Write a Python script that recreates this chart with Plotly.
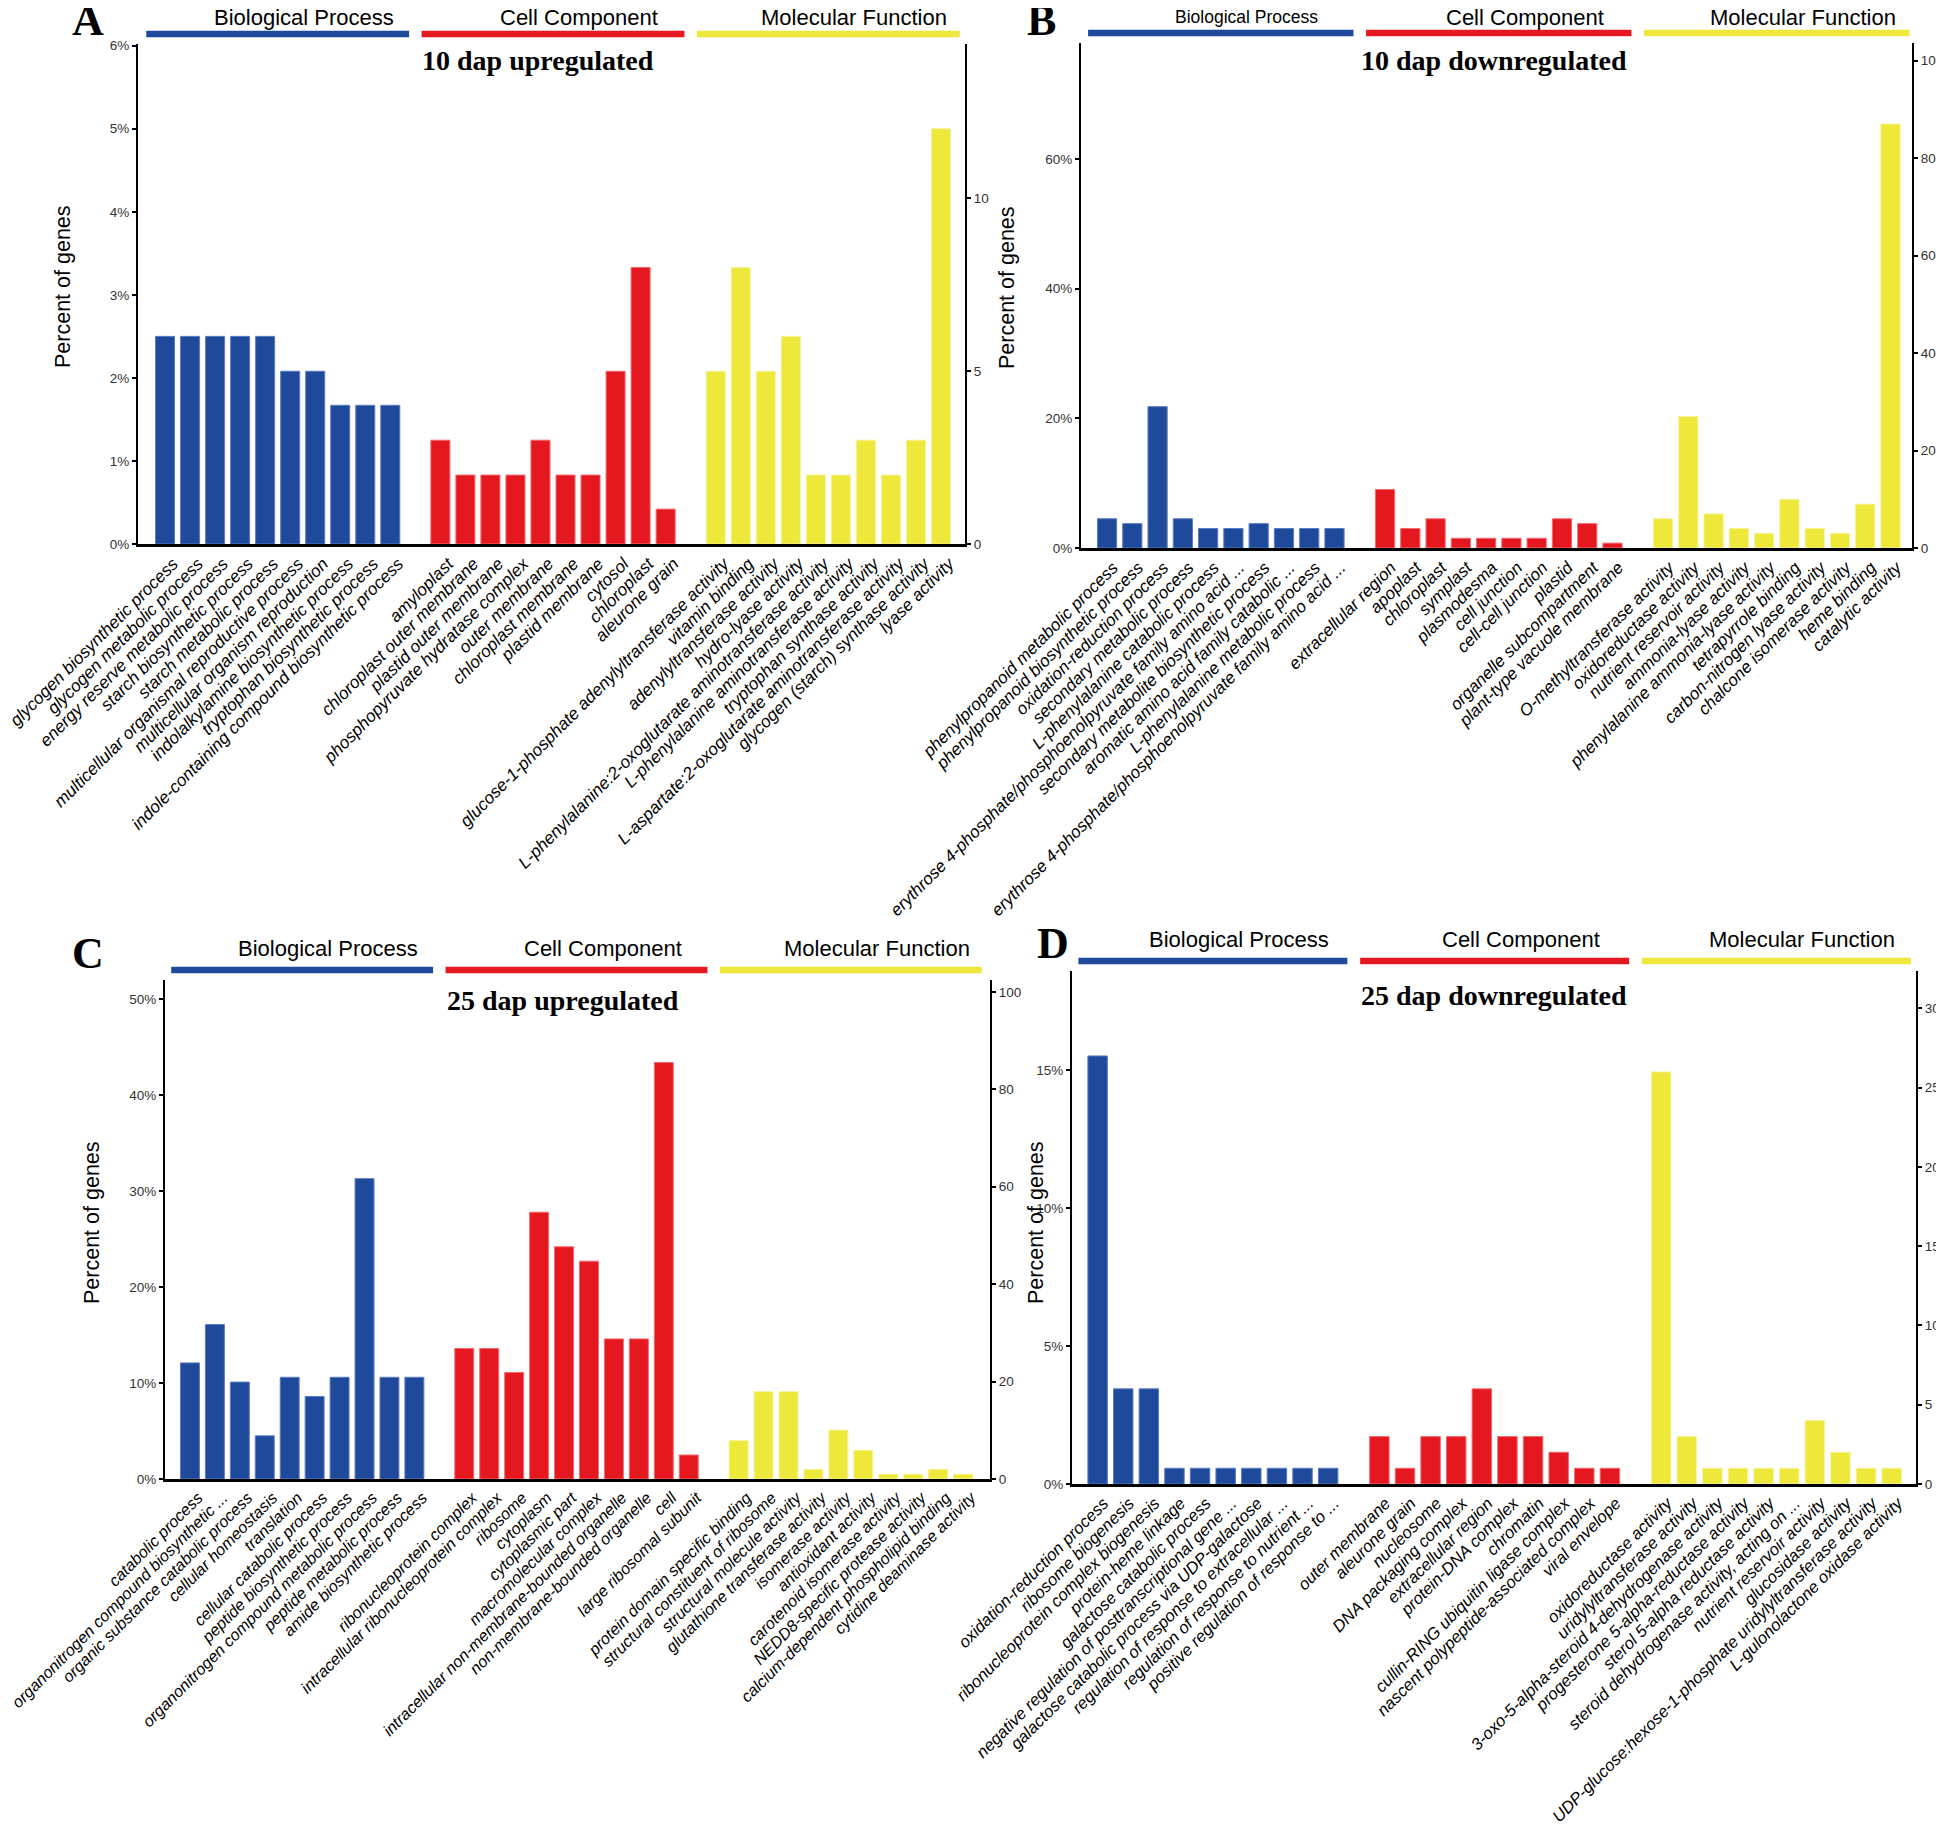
import plotly.graph_objects as go

W, H = 1944, 1825
BLUE, RED, YELLOW = "#1f4a9c", "#e6181f", "#ede839"
BLUE_E, RED_E, YELLOW_E = "#5b7cc0", "#f06a6f", "#f6f29a"

# ---------------- Panel A: 10 dap upregulated ----------------
A_BP_TERMS = ["glycogen biosynthetic process", "glycogen metabolic process",
              "energy reserve metabolic process", "starch biosynthetic process",
              "starch metabolic process", "multicellular organismal reproductive process",
              "multicellular organism reproduction", "indolalkylamine biosynthetic process",
              "tryptophan biosynthetic process", "indole-containing compound biosynthetic process"]
A_BP_PCT = [2.5, 2.5, 2.5, 2.5, 2.5, 2.08, 2.08, 1.67, 1.67, 1.67]
A_CC_TERMS = ["amyloplast", "chloroplast outer membrane", "plastid outer membrane",
              "phosphopyruvate hydratase complex", "outer membrane", "chloroplast membrane",
              "plastid membrane", "cytosol", "chloroplast", "aleurone grain"]
A_CC_PCT = [1.25, 0.83, 0.83, 0.83, 1.25, 0.83, 0.83, 2.08, 3.33, 0.42]
A_MF_TERMS = ["glucose-1-phosphate adenylyltransferase activity", "vitamin binding",
              "adenylyltransferase activity", "hydro-lyase activity",
              "L-phenylalanine:2-oxoglutarate aminotransferase activity",
              "L-phenylalanine aminotransferase activity", "tryptophan synthase activity",
              "L-aspartate:2-oxoglutarate aminotransferase activity",
              "glycogen (starch) synthase activity", "lyase activity"]
A_MF_PCT = [2.08, 3.33, 2.08, 2.5, 0.83, 0.83, 1.25, 0.83, 1.25, 5.0]
A_TOTAL = 240

# ---------------- Panel B: 10 dap downregulated ----------------
B_BP_TERMS = ["phenylpropanoid metabolic process", "phenylpropanoid biosynthetic process",
              "oxidation-reduction process", "secondary metabolic process",
              "L-phenylalanine catabolic process",
              "erythrose 4-phosphate/phosphoenolpyruvate family amino acid ...",
              "secondary metabolite biosynthetic process",
              "aromatic amino acid family catabolic ...", "L-phenylalanine metabolic process",
              "erythrose 4-phosphate/phosphoenolpyruvate family amino acid ..."]
B_BP_PCT = [4.51, 3.76, 21.8, 4.51, 3.01, 3.01, 3.76, 3.01, 3.01, 3.01]
B_CC_TERMS = ["extracellular region", "apoplast", "chloroplast", "symplast", "plasmodesma",
              "cell junction", "cell-cell junction", "plastid", "organelle subcompartment",
              "plant-type vacuole membrane"]
B_CC_PCT = [9.02, 3.01, 4.51, 1.5, 1.5, 1.5, 1.5, 4.51, 3.76, 0.75]
B_MF_TERMS = ["O-methyltransferase activity", "oxidoreductase activity",
              "nutrient reservoir activity", "ammonia-lyase activity",
              "phenylalanine ammonia-lyase activity", "tetrapyrrole binding",
              "carbon-nitrogen lyase activity", "chalcone isomerase activity",
              "heme binding", "catalytic activity"]
B_MF_PCT = [4.51, 20.3, 5.26, 3.01, 2.26, 7.52, 3.01, 2.26, 6.77, 65.4]
B_TOTAL = 133

# ---------------- Panel C: 25 dap upregulated ----------------
C_BP_TERMS = ["catabolic process", "organonitrogen compound biosynthetic ...",
              "organic substance catabolic process", "cellular homeostasis", "translation",
              "cellular catabolic process", "peptide biosynthetic process",
              "organonitrogen compound metabolic process", "peptide metabolic process",
              "amide biosynthetic process"]
C_BP_PCT = [12.1, 16.1, 10.1, 4.5, 10.6, 8.6, 10.6, 31.3, 10.6, 10.6]
C_CC_TERMS = ["ribonucleoprotein complex", "intracellular ribonucleoprotein complex",
              "ribosome", "cytoplasm", "cytoplasmic part", "macromolecular complex",
              "intracellular non-membrane-bounded organelle",
              "non-membrane-bounded organelle", "cell", "large ribosomal subunit"]
C_CC_PCT = [13.6, 13.6, 11.1, 27.8, 24.2, 22.7, 14.6, 14.6, 43.4, 2.5]
C_MF_TERMS = ["protein domain specific binding", "structural constituent of ribosome",
              "structural molecule activity", "glutathione transferase activity",
              "isomerase activity", "antioxidant activity", "carotenoid isomerase activity",
              "NEDD8-specific protease activity", "calcium-dependent phospholipid binding",
              "cytidine deaminase activity"]
C_MF_PCT = [4.0, 9.1, 9.1, 1.0, 5.1, 3.0, 0.5, 0.5, 1.0, 0.5]
C_TOTAL = 197

# ---------------- Panel D: 25 dap downregulated ----------------
D_BP_TERMS = ["oxidation-reduction process", "ribosome biogenesis",
              "ribonucleoprotein complex biogenesis", "protein-heme linkage",
              "galactose catabolic process",
              "negative regulation of posttranscriptional gene ...",
              "galactose catabolic process via UDP-galactose",
              "regulation of response to extracellular ...",
              "regulation of response to nutrient ...",
              "positive regulation of response to ..."]
D_BP_PCT = [15.52, 3.45, 3.45, 0.57, 0.57, 0.57, 0.57, 0.57, 0.57, 0.57]
D_CC_TERMS = ["outer membrane", "aleurone grain", "nucleosome", "DNA packaging complex",
              "extracellular region", "protein-DNA complex", "chromatin",
              "cullin-RING ubiquitin ligase complex",
              "nascent polypeptide-associated complex", "viral envelope"]
D_CC_PCT = [1.72, 0.57, 1.72, 1.72, 3.45, 1.72, 1.72, 1.15, 0.57, 0.57]
D_MF_TERMS = ["oxidoreductase activity", "uridylyltransferase activity",
              "3-oxo-5-alpha-steroid 4-dehydrogenase activity",
              "progesterone 5-alpha-reductase activity", "sterol 5-alpha reductase activity",
              "steroid dehydrogenase activity, acting on ...", "nutrient reservoir activity",
              "glucosidase activity",
              "UDP-glucose:hexose-1-phosphate uridylyltransferase activity",
              "L-gulonolactone oxidase activity"]
D_MF_PCT = [14.94, 1.72, 0.57, 0.57, 0.57, 0.57, 2.30, 1.15, 0.57, 0.57]
D_TOTAL = 174

GROUP_NAMES = ["Biological Process", "Cell Component", "Molecular Function"]

# layout specs (pixels in the 1944x1825 page)
PANELS = [
    dict(letter="A", title="10 dap upregulated", total=A_TOTAL,
         groups=[(A_BP_TERMS, A_BP_PCT), (A_CC_TERMS, A_CC_PCT), (A_MF_TERMS, A_MF_PCT)],
         px=(137, 964), py=(43, 543), ytop=6.02, ydt=1, rdt=5, xr=(-1.08, 31.96),
         letter_xy=(87, 20), title_xy=(537, 59), ytitle_xy=(62, 286),
         hdr_sizes=(22, 22, 22), hdr_shift=16, lab_size=17.2, lab_shift=8),
    dict(letter="B", title="10 dap downregulated", total=B_TOTAL,
         groups=[(B_BP_TERMS, B_BP_PCT), (B_CC_TERMS, B_CC_PCT), (B_MF_TERMS, B_MF_PCT)],
         px=(1080, 1911), py=(42, 547), ytop=77.9, ydt=20, rdt=20, xr=(-1.03, 31.85),
         letter_xy=(1040, 20), title_xy=(1493, 59), ytitle_xy=(1006, 286),
         hdr_sizes=(17.5, 22, 22), hdr_shift=16, lab_size=17, lab_shift=6),
    dict(letter="C", title="25 dap upregulated", total=C_TOTAL,
         groups=[(C_BP_TERMS, C_BP_PCT), (C_CC_TERMS, C_CC_PCT), (C_MF_TERMS, C_MF_PCT)],
         px=(164, 989), py=(979, 1478), ytop=52.0, ydt=10, rdt=20, xr=(-1.0, 32.08),
         letter_xy=(87, 952), title_xy=(562, 999), ytitle_xy=(91, 1222),
         hdr_sizes=(22, 22, 22), hdr_shift=22, lab_size=16.2, lab_shift=8),
    dict(letter="D", title="25 dap downregulated", total=D_TOTAL,
         groups=[(D_BP_TERMS, D_BP_PCT), (D_CC_TERMS, D_CC_PCT), (D_MF_TERMS, D_MF_PCT)],
         px=(1071, 1915), py=(970, 1483), ytop=18.6, ydt=5, rdt=5, xr=(-1.0, 31.95),
         letter_xy=(1052, 942), title_xy=(1493, 994), ytitle_xy=(1035, 1222),
         hdr_sizes=(22, 22, 22), hdr_shift=22, lab_size=16.7, lab_shift=6),
]
OX, OY = -7, -7  # global pixel offset

COLORS = [(BLUE, BLUE_E), (RED, RED_E), (YELLOW, YELLOW_E)]
SANS = "Liberation Sans, Arial, sans-serif"
NARROW = "Liberation Sans Narrow, Arial Narrow, Liberation Sans, sans-serif"
SERIF = "Liberation Serif, Times New Roman, serif"

fig = go.Figure()
layout = dict(width=W, height=H, margin=dict(l=0, r=0, t=0, b=0, autoexpand=False),
              paper_bgcolor="white", plot_bgcolor="white", showlegend=False,
              bargap=0.24)
annotations, shapes = [], []

def fx(p):
    return (p + OX) / W

def fy(p):
    return 1 - (p + OY) / H

for i, P in enumerate(PANELS):
    n = i + 1
    xa = "x" if n == 1 else f"x{n}"
    ya = "y" if n == 1 else f"y{n}"
    yr = f"y{n + 4}"
    xkey = "xaxis" if n == 1 else f"xaxis{n}"
    ykey = "yaxis" if n == 1 else f"yaxis{n}"
    rkey = f"yaxis{n + 4}"

    tickvals, ticktext = [], []
    offset = 0
    ly = P["py"][0] - 10  # header line y
    for g, (terms, pct) in enumerate(P["groups"]):
        pos = [offset + k for k in range(len(terms))]
        fill, edge = COLORS[g]
        fig.add_trace(go.Bar(x=pos, y=pct, xaxis=xa, yaxis=ya, width=0.76,
                             marker=dict(color=fill, line=dict(color=edge, width=1)),
                             hoverinfo="skip"))
        tickvals += pos
        ticktext += terms
        x0, x1 = pos[0] - 0.75, pos[-1] + 0.75
        shapes.append(dict(type="rect", xref=xa, yref="paper", x0=x0, x1=x1,
                           y0=fy(ly + 3.2), y1=fy(ly - 3.2), fillcolor=fill,
                           line=dict(width=0), layer="above"))
        annotations.append(dict(xref=xa, yref="paper", x=(x0 + x1) / 2,
                                y=fy(ly - P["hdr_shift"]),
                                xshift=26, text=GROUP_NAMES[g], showarrow=False,
                                xanchor="center", yanchor="middle",
                                font=dict(family=SANS, size=P["hdr_sizes"][g], color="black")))
        offset += len(terms) + 1

    fig.add_trace(go.Scatter(x=[tickvals[0]], y=[None], xaxis=xa, yaxis=yr,
                             mode="markers", hoverinfo="skip", showlegend=False))

    xd = [fx(P["px"][0]), fx(P["px"][1])]
    yd = [fy(P["py"][1]), fy(P["py"][0])]
    layout[xkey] = dict(domain=xd, anchor=ya, range=list(P["xr"]), tickmode="array",
                        tickvals=tickvals, ticktext=ticktext, tickangle=-45,
                        ticklabelshift=P["lab_shift"],
                        automargin=False, ticklabeloverflow="allow",
                        showline=True, linecolor="black", linewidth=3, ticks="",
                        showgrid=False, zeroline=False,
                        tickfont=dict(family=SANS, size=P["lab_size"], color="black",
                                      style="italic"))
    layout[ykey] = dict(domain=yd, anchor=xa, range=[0, P["ytop"]], dtick=P["ydt"],
                        tick0=0, ticksuffix="%", showline=True, linecolor="black",
                        automargin=False, ticklabeloverflow="allow",
                        linewidth=2, ticks="outside", ticklen=4, tickwidth=1.5,
                        tickcolor="black", showgrid=False, zeroline=False,
                        tickfont=dict(family=NARROW, size=13.5, color="#333333"))
    layout[rkey] = dict(domain=yd, anchor=xa, overlaying=ya, side="right",
                        range=[0, P["ytop"] * P["total"] / 100], dtick=P["rdt"], tick0=0,
                        automargin=False, ticklabeloverflow="allow",
                        showline=True, linecolor="black", linewidth=2, ticks="outside",
                        ticklen=4, tickwidth=1.5, tickcolor="black", showgrid=False,
                        zeroline=False,
                        tickfont=dict(family=NARROW, size=13.5, color="#333333"))

    lx, lyy = P["letter_xy"]
    annotations.append(dict(xref="paper", yref="paper", x=fx(lx), y=fy(lyy), text=P["letter"],
                            showarrow=False, xanchor="center", yanchor="middle",
                            font=dict(family=SERIF, size=44, color="black", weight="bold")))
    tx, ty = P["title_xy"]
    annotations.append(dict(xref="paper", yref="paper", x=fx(tx), y=fy(ty),
                            text="<b>" + P["title"] + "</b>", showarrow=False,
                            xanchor="center", yanchor="middle",
                            font=dict(family=SERIF, size=28, color="black")))
    yx, yy = P["ytitle_xy"]
    annotations.append(dict(xref="paper", yref="paper", x=fx(yx), y=fy(yy),
                            text="Percent of genes", textangle=-90, showarrow=False,
                            xanchor="center", yanchor="middle",
                            font=dict(family=SANS, size=21.5, color="black")))

layout["annotations"] = annotations
layout["shapes"] = shapes
fig.update_layout(**layout)
fig.write_html("out.html")
